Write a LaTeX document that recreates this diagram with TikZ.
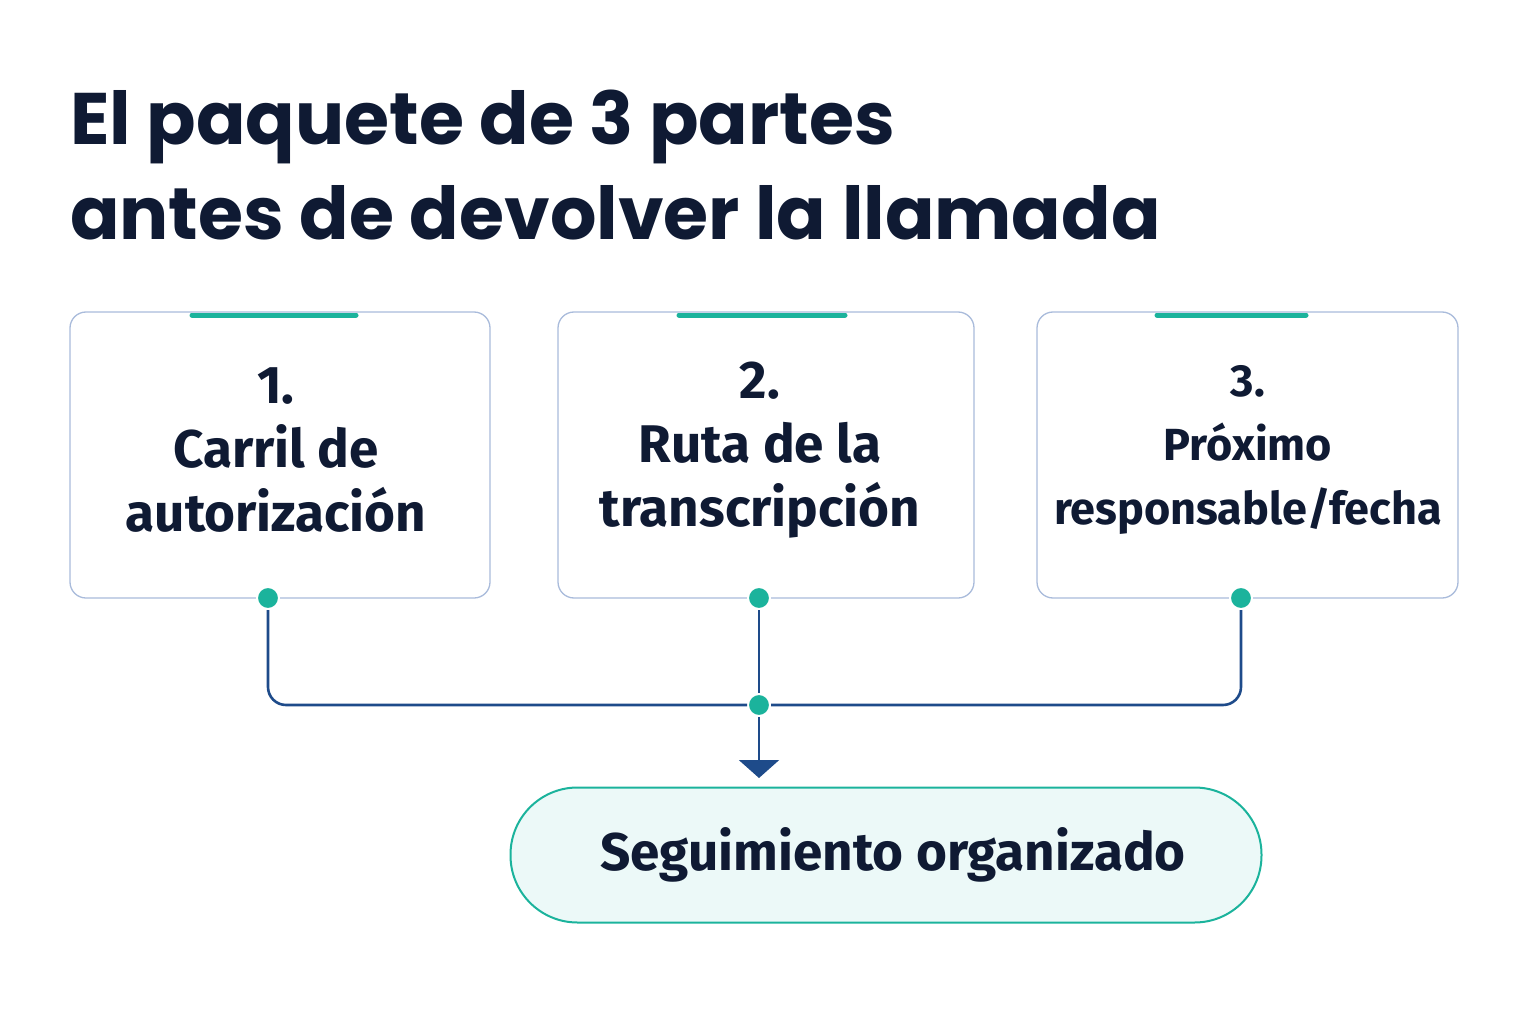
\documentclass[tikz,border=0pt]{standalone}
\usepackage{fontspec}
\setmainfont{Fira Sans}
\newfontfamily\titlef{Poppins}[BoldFont={* Bold}]
\usetikzlibrary{arrows.meta}
\definecolor{navy}{HTML}{0F1A33}
\definecolor{teal}{HTML}{1BB39C}
\definecolor{lineb}{HTML}{1E4B8A}
\definecolor{boxb}{HTML}{A9BBDB}
\definecolor{pillf}{HTML}{ECF9F8}
\begin{document}
\begin{tikzpicture}[x=1pt,y=-1pt,
  card/.style={draw=boxb,line width=1.3pt,rounded corners=16pt,fill=white},
  bar/.style={teal,line width=5pt,line cap=round},
  ctext/.style={align=center,text=navy,font=\fontsize{53}{64}\selectfont\bfseries},
  dot/.style={circle,fill=teal,draw=white,line width=2pt,minimum size=22pt,inner sep=0pt},
  conn/.style={lineb,line width=2.6pt,rounded corners=18pt}]
\useasboundingbox (0,0) rectangle (1536,1024);
\node[anchor=base west,text=navy,font=\titlef\fontsize{73}{96}\selectfont\bfseries,inner sep=0pt] (t1) at (70,145) {El paquete de 3 partes};
\node[anchor=base west,text=navy,font=\titlef\fontsize{73}{96}\selectfont\bfseries,inner sep=0pt] (t2) at (70,240) {antes de devolver la llamada};
\draw[card] (70,312) rectangle (490,598);
\draw[card] (558,312) rectangle (974,598);
\draw[card] (1037,312) rectangle (1458,598);
\draw[bar] (192,315) -- (356,315);
\draw[bar] (679,315) -- (845,315);
\draw[bar] (1157,315) -- (1306,315);
\node[ctext] (c1) at (276,450) {1.\\Carril de\\autorización};
\node[ctext] (c2) at (760,450) {2.\\Ruta de la\\transcripción};
\node[ctext,font=\fontsize{45}{64}\selectfont\bfseries] (c3) at (1248,450) {3.\\Próximo\\responsable/fecha};
\node[dot] (d1) at (268,598) {};
\node[dot] (d2) at (759,598) {};
\node[dot] (d3) at (1241,598) {};
\node[dot] (dc) at (759,705) {};
\coordinate (a1) at (759,778);
\draw[conn] (d1) -- (268,705) -- (dc);
\draw[conn] (d3) -- (1241,705) -- (dc);
\draw[conn] (d2) -- (dc);
\draw[lineb,line width=2.6pt,-{Triangle[width=40pt,length=18pt]}] (dc) -- (a1);
\node[draw=teal,line width=2pt,fill=pillf,rounded corners=67pt,minimum width=751pt,minimum height=135pt] (p) at (886,855) {};
\node[text=navy,font=\fontsize{53}{60}\selectfont\bfseries] (pt) at (893,855) {Seguimiento organizado};
\end{tikzpicture}
\end{document}
